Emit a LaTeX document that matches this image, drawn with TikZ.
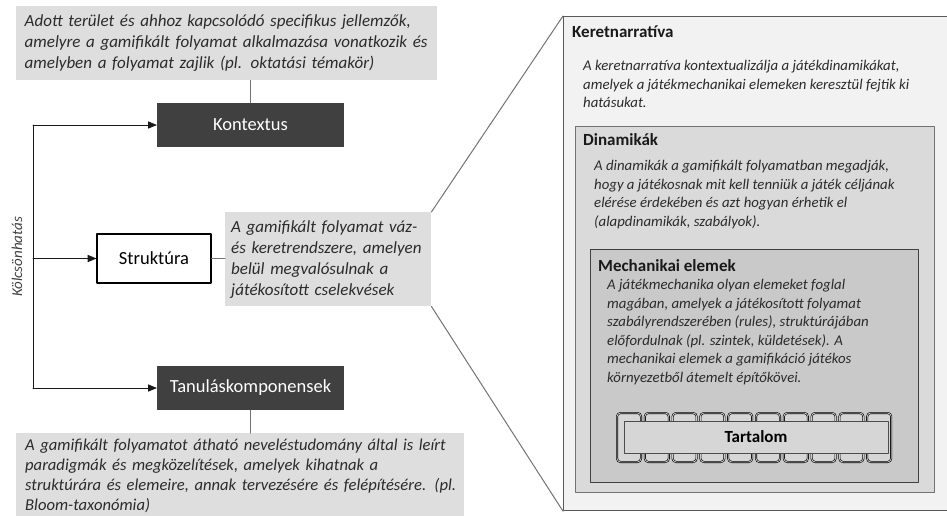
\documentclass[tikz,border=0pt]{standalone}
\usepackage{fontspec}
\setmainfont{Carlito}
\usepackage{tikz}
\usetikzlibrary{arrows}

\definecolor{descgray}{HTML}{DEDEDE}
\definecolor{darkfill}{HTML}{404040}
\definecolor{inktext}{HTML}{2B2B2B}
\definecolor{outerfill}{HTML}{F2F2F2}
\definecolor{dynfill}{HTML}{DADADA}
\definecolor{mechfill}{HTML}{C9C9C9}
\definecolor{chipfill}{HTML}{D6D6D6}
\definecolor{edgegray}{HTML}{595959}

\tikzset{
  descbox/.style={fill=descgray, inner ysep=0pt, anchor=north west, align=left,
    font=\fontsize{17}{21}\selectfont\itshape, text=inktext},
  darkbox/.style={fill=darkfill, text=white, inner sep=0pt,
    font=\fontsize{18.5}{22}\selectfont},
  whitebox/.style={fill=white, draw=black, line width=1.2pt, inner sep=0pt,
    font=\fontsize{18.5}{22}\selectfont},
  layerbox/.style={inner sep=0pt, anchor=north west},
  layertitle/.style={anchor=west, inner sep=0pt, font=\fontsize{17}{20}\selectfont\bfseries, text=black!90},
  layertext/.style={anchor=north west, inner sep=0pt, align=left,
    font=\fontsize{14.8}{18.6}\selectfont\itshape, text=inktext},
  link/.style={draw=black!55, line width=1pt},
  bracket/.style={draw=black!90, line width=1pt}
}

\begin{document}
\begin{tikzpicture}[line cap=round,line join=round,>=triangle 45,x=1pt,y=-1pt]
\useasboundingbox (0,0) rectangle (947,515);

\node[descbox, minimum width=421pt, minimum height=74pt, inner xsep=5pt, text width=411pt] (ctxdesc) at (16,6)
  {\hspace*{3.5pt}Adott terület és ahhoz kapcsolódó specifikus jellemzők,\\
   \hspace*{3.5pt}amelyre a gamifikált folyamat alkalmazása vonatkozik és\\
   \hspace*{3.5pt}amelyben a folyamat zajlik (pl. oktatási témakör)};
\node[darkbox, minimum width=187pt, minimum height=44pt] (ctx) at (250.5,125) {Kontextus};
\node[whitebox, minimum width=114pt, minimum height=49pt] (struct) at (154,258.5) {Struktúra};
\node[descbox, minimum width=206pt, minimum height=94pt, inner xsep=6pt, text width=194pt] (structdesc) at (225,212)
  {A gamifikált folyamat váz-\\
   és keretrendszere, amelyen\\
   belül megvalósulnak a\\
   játékosított cselekvések};
\node[darkbox, minimum width=187pt, minimum height=44pt] (learn) at (250.5,388) {Tanuláskomponensek};
\node[descbox, minimum width=448pt, minimum height=86pt, inner xsep=0pt, text width=448pt,
  font=\fontsize{16.6}{20}\selectfont\itshape] (learndesc) at (16,433)
  {\hspace*{9pt}A gamifikált folyamatot átható neveléstudomány által is leírt\\
   \hspace*{9pt}paradigmák és megközelítések, amelyek kihatnak a\\
   \hspace*{9pt}struktúrára és elemeire, annak tervezésére és felépítésére. (pl.\\
   \hspace*{9pt}Bloom-taxonómia)};
\node[rotate=90, inner sep=0pt, font=\fontsize{15}{17}\selectfont\itshape, text=black!75] (mutual) at (17,257) {Kölcsönhatás};

\coordinate (ktop) at (33,125);
\coordinate (kmid) at (33,258.5);
\coordinate (kbot) at (33,388);
\draw[bracket] (ktop) -- (kbot);
\draw[bracket,->] (ktop) -- (ctx);
\draw[bracket,->] (kmid) -- (struct);
\draw[bracket,->] (kbot) -- (learn);
\draw[link] (ctx.north) -- (ctx.north |- ctxdesc.south);
\draw[link] (learn.south) -- (learn.south |- learndesc.north);
\draw[link] (struct.east) -- (struct.east -| structdesc.west);

\node[layerbox, fill=outerfill, draw=edgegray, line width=1.2pt, minimum width=387pt, minimum height=494pt] (frame) at (563,16) {};
\node[layerbox, fill=dynfill, draw=black!55, line width=1.2pt, minimum width=359pt, minimum height=366pt] (dyn) at (575,126) {};
\node[layerbox, fill=mechfill, draw=black!75, line width=1.2pt, minimum width=328pt, minimum height=233pt] (mech) at (590,249) {};
\draw[link] (structdesc.north east) -- (frame.north west);
\draw[link] (structdesc.south east) -- (frame.south west);

\node[layertitle] (frametitle) at (572,32) {Keretnarratíva};
\node[layertext] (frametext) at (583,60)
  {A keretnarratíva kontextualizálja a játékdinamikákat,\\
   amelyek a játékmechanikai elemeken keresztül fejtik ki\\
   hatásukat.};
\node[layertitle] (dyntitle) at (583,140) {Dinamikák};
\node[layertext] (dyntext) at (594,160)
  {A dinamikák a gamifikált folyamatban megadják,\\
   hogy a játékosnak mit kell tenniük a játék céljának\\
   elérése érdekében és azt hogyan érhetik el\\
   (alapdinamikák, szabályok).};
\node[layertitle] (mechtitle) at (598,266) {Mechanikai elemek};
\node[layertext] (mechtext) at (607,279)
  {A játékmechanika olyan elemeket foglal\\
   magában, amelyek a játékosított folyamat\\
   szabályrendszerében (rules), struktúrájában\\
   előfordulnak (pl. szintek, küldetések). A\\
   mechanikai elemek a gamifikáció játékos\\
   környezetből átemelt építőkövei.};

\foreach \i in {0,...,9}
  \draw[draw=black, line width=0.6pt, double=black!20, double distance=0.8pt, fill=chipfill, rounded corners=3.5pt]
    (617+27.8*\i,413) rectangle (641+27.8*\i,462);
\node[fill=chipfill, draw=black!70, line width=1pt, inner sep=0pt, minimum width=264pt, minimum height=32pt,
  font=\fontsize{17}{20}\selectfont\bfseries] (content) at (756,437) {Tartalom};
\end{tikzpicture}
\end{document}
